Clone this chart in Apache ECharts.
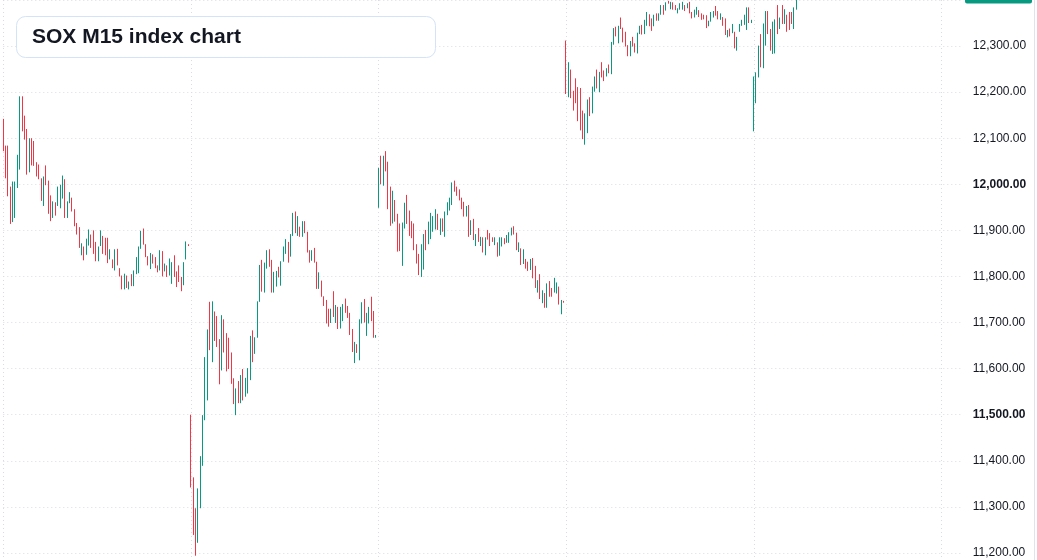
<!DOCTYPE html>
<html>
<head>
<meta charset="utf-8">
<title>SOX M15 index chart</title>
<script src="https://cdn.jsdelivr.net/npm/echarts@6/dist/echarts.min.js"></script>
<style>
  html, body { margin: 0; padding: 0; background: #ffffff; }
  #chart { width: 1037px; height: 560px; }
</style>
</head>
<body>
<div id="chart"></div>
<script>
// [open, close] per 15-minute bar, one array per session
const session1 = [
  [12142, 12072], [12084, 12013], [12084, 11974], [11995, 11914], [11918, 12006], [11927, 12006], [11992, 12064], [12032, 12191],
  [12191, 12115], [12149, 12097], [12120, 12021], [12026, 12100], [12100, 12041], [12094, 12040], [12048, 12017], [12043, 12011],
  [12013, 11964], [11953, 12017], [12041, 11998], [12008, 11936], [11976, 11920], [11927, 11963], [11961, 11932], [11953, 11995],
  [11948, 11999], [11969, 12019], [12011, 11927], [11927, 11963], [11959, 11983], [11971, 11941], [11946, 11909], [11916, 11891],
  [11907, 11862], [11846, 11872], [11865, 11835], [11847, 11882], [11867, 11902], [11891, 11862], [11900, 11849], [11875, 11833],
  [11833, 11865], [11866, 11900], [11888, 11849], [11884, 11846], [11884, 11829], [11837, 11859], [11837, 11818], [11813, 11859],
  [11860, 11824], [11818, 11800], [11802, 11772], [11772, 11806], [11802, 11775], [11772, 11789], [11805, 11779], [11779, 11813],
  [11805, 11842], [11807, 11865], [11860, 11899], [11904, 11869], [11870, 11842], [11844, 11824], [11816, 11851], [11848, 11828],
  [11842, 11818], [11824, 11809], [11813, 11857], [11855, 11800], [11811, 11828], [11824, 11799], [11802, 11839], [11784, 11831],
  [11846, 11799], [11811, 11777], [11824, 11788], [11799, 11768], [11781, 11831], [11837, 11876], [11870, 11866]
];

const session2 = [
  [11500, 11342], [11364, 11239], [11297, 11194], [11222, 11340], [11297, 11410], [11389, 11499], [11488, 11625], [11531, 11685],
  [11745, 11640], [11614, 11746], [11724, 11660], [11714, 11647], [11664, 11566], [11596, 11716], [11707, 11635], [11677, 11594],
  [11667, 11599], [11635, 11567], [11579, 11523], [11499, 11557], [11573, 11525], [11525, 11586], [11599, 11531], [11539, 11580],
  [11546, 11601], [11575, 11671], [11683, 11614], [11632, 11668], [11667, 11746], [11745, 11825], [11836, 11767], [11765, 11830],
  [11817, 11857], [11859, 11821], [11836, 11765], [11765, 11810], [11778, 11812], [11821, 11798], [11780, 11833], [11832, 11865],
  [11849, 11881], [11875, 11830], [11843, 11892], [11888, 11938], [11941, 11894], [11888, 11931], [11908, 11886], [11886, 11920],
  [11920, 11894], [11897, 11852], [11857, 11830], [11834, 11857], [11862, 11830], [11832, 11773], [11773, 11809], [11791, 11756],
  [11757, 11736], [11749, 11698], [11730, 11691], [11699, 11730], [11768, 11712], [11699, 11738], [11734, 11686], [11687, 11734],
  [11703, 11740], [11752, 11721], [11736, 11710], [11721, 11673], [11686, 11636], [11612, 11658], [11653, 11634], [11618, 11707],
  [11698, 11744], [11751, 11700], [11671, 11721], [11698, 11734], [11756, 11703], [11725, 11667], [11667, 11673]
];

const session3 = [
  [11949, 12036], [12062, 12000], [11997, 12062], [12072, 12028], [12049, 11946], [11995, 11910], [11915, 11986], [11966, 11919],
  [11936, 11854], [11915, 11855], [11823, 11917], [11904, 11960], [11977, 11914], [11943, 11888], [11920, 11883], [11915, 11857],
  [11870, 11828], [11849, 11803], [11799, 11870], [11815, 11892], [11901, 11857], [11870, 11919], [11881, 11938], [11897, 11931],
  [11902, 11946], [11936, 11901], [11890, 11926], [11926, 11897], [11886, 11941], [11933, 11961], [11943, 11971], [11955, 12004],
  [12008, 11984], [11995, 11975], [11989, 11965], [11971, 11946], [11962, 11930], [11930, 11953], [11955, 11886], [11890, 11922],
  [11925, 11879], [11866, 11892], [11905, 11875], [11866, 11886], [11885, 11852], [11846, 11885], [11901, 11880], [11894, 11866],
  [11885, 11875], [11868, 11885], [11874, 11843], [11845, 11885], [11865, 11885], [11883, 11870], [11873, 11890], [11873, 11896],
  [11889, 11906], [11909, 11891], [11895, 11857], [11853, 11874], [11861, 11825], [11827, 11859], [11838, 11817], [11832, 11812],
  [11814, 11838], [11840, 11796], [11823, 11775], [11765, 11792], [11805, 11751], [11742, 11770], [11764, 11732], [11732, 11785],
  [11790, 11756], [11775, 11756], [11765, 11797], [11763, 11787], [11778, 11739], [11718, 11749], [11747, 11743]
];

const session4 = [
  [12312, 12196], [12189, 12265], [12249, 12187], [12203, 12160], [12230, 12176], [12211, 12137], [12209, 12117], [12160, 12098],
  [12086, 12154], [12111, 12184], [12189, 12148], [12154, 12212], [12201, 12234], [12249, 12208], [12200, 12244], [12265, 12232],
  [12247, 12224], [12234, 12252], [12260, 12241], [12239, 12309], [12303, 12339], [12342, 12321], [12306, 12344], [12362, 12337],
  [12340, 12308], [12331, 12299], [12302, 12278], [12278, 12311], [12320, 12299], [12306, 12286], [12284, 12329], [12326, 12344],
  [12346, 12325], [12326, 12357], [12344, 12374], [12369, 12343], [12360, 12333], [12343, 12368], [12371, 12355], [12355, 12371],
  [12368, 12389], [12389, 12368], [12377, 12395], [12398, 12392], [12380, 12396], [12395, 12379], [12389, 12378], [12371, 12382],
  [12379, 12393], [12379, 12396], [12389, 12376], [12382, 12393], [12396, 12371], [12374, 12360], [12362, 12379], [12368, 12385],
  [12378, 12363], [12371, 12357], [12368, 12358], [12367, 12339], [12343, 12355], [12353, 12374], [12362, 12376], [12387, 12366],
  [12376, 12358], [12357, 12371], [12363, 12344], [12360, 12324], [12319, 12335], [12338, 12321], [12328, 12348], [12331, 12295],
  [12290, 12320], [12331, 12348], [12344, 12357], [12346, 12368], [12335, 12384], [12384, 12350], [12350, 12357]
];

const session5 = [
  [12115, 12234], [12176, 12243], [12232, 12301], [12326, 12254], [12252, 12349], [12301, 12376], [12376, 12326], [12337, 12290],
  [12283, 12353], [12284, 12358], [12389, 12326], [12337, 12362], [12389, 12348], [12348, 12380], [12368, 12331], [12374, 12335],
  [12374, 12348], [12337, 12384], [12379, 12412]
];

const barsPerSession = 79;
const slotCount = 405; // bar slots across the plot, empty ones on the right
const priceMin = 11100;
const priceMax = 12400;
const priceStep = 100;

const upColor = '#089981';
const downColor = '#f23645';
const gridColor = '#d9dce3';
const fontFamily = '"Liberation Sans", Arial, sans-serif';

const bars = [].concat(session1, session2, session3, session4, session5);
const candleData = bars.map(([open, close]) => [open, close, Math.min(open, close), Math.max(open, close)]);
const categories = [];
for (let i = 0; i < slotCount; i++) {
  categories.push(String(i));
}
const lastClose = bars[bars.length - 1][1];

function formatPrice(v) {
  return v.toLocaleString('en-US', { minimumFractionDigits: 2, maximumFractionDigits: 2 });
}

const chart = echarts.init(document.getElementById('chart'));

chart.setOption({
  animation: false,
  backgroundColor: '#ffffff',
  title: {
    text: 'SOX M15 index chart',
    left: 16,
    top: 16,
    padding: [9, 16],
    backgroundColor: '#ffffff',
    borderColor: '#d4e3f7',
    borderWidth: 1,
    borderRadius: 9,
    textStyle: {
      fontFamily,
      fontSize: 21,
      fontWeight: 'bold',
      color: '#131722',
      width: 388,
      lineHeight: 24,
    },
  },
  grid: {
    left: 3.3,
    top: 0,
    width: 959.5,
    height: 599,
    containLabel: false,
    outerBoundsMode: 'none',
  },
  xAxis: {
    type: 'category',
    data: categories,
    boundaryGap: false,
    axisLine: { show: false },
    axisTick: { show: false, interval: barsPerSession - 1 },
    axisLabel: { show: false, interval: barsPerSession - 1 },
    splitLine: {
      show: true,
      interval: barsPerSession - 1,
      lineStyle: { color: gridColor, type: [1, 3], width: 1 },
    },
  },
  yAxis: {
    type: 'value',
    position: 'right',
    min: priceMin,
    max: priceMax,
    interval: priceStep,
    axisLine: { show: false },
    axisTick: { show: false },
    splitLine: {
      show: true,
      lineStyle: { color: gridColor, type: [1, 3], width: 1 },
    },
    axisLabel: {
      margin: 10,
      color: '#131722',
      fontSize: 12,
      fontFamily,
      formatter: (v) => {
        if (v >= priceMax) return '';
        const text = formatPrice(v);
        return v % 500 === 0 ? '{b|' + text + '}' : text;
      },
      rich: {
        b: { fontWeight: 'bold', fontSize: 12, color: '#131722', fontFamily },
      },
    },
  },
  series: [
    {
      type: 'candlestick',
      data: candleData,
      barWidth: 0.6,
      itemStyle: {
        color: upColor,
        color0: downColor,
        borderColor: upColor,
        borderColor0: downColor,
        borderWidth: 1,
      },
    },
  ],
});

// last price tag on the price scale, placed through the grid's y scale
const lastPoint = chart.convertToPixel({ gridIndex: 0 }, [bars.length - 1, lastClose]);
let lastY = lastPoint ? lastPoint[1] : NaN;
if (!isFinite(lastY)) {
  const h = 599;
  lastY = h - ((lastClose - priceMin) / (priceMax - priceMin)) * h;
}

chart.setOption({
  graphic: [
    {
      type: 'line',
      shape: { x1: 1034.5, y1: 0, x2: 1034.5, y2: 560 },
      style: { stroke: '#e0e3eb', lineWidth: 1 },
      silent: true,
    },
    {
      type: 'rect',
      silent: true,
      z: 100,
      shape: { x: 965, y: lastY - 9, width: 67, height: 18, r: 2 },
      style: { fill: upColor },
    },
    {
      type: 'text',
      silent: true,
      z: 101,
      x: 972,
      y: lastY,
      style: {
        text: formatPrice(lastClose),
        fill: '#ffffff',
        font: '12px ' + fontFamily,
        verticalAlign: 'middle',
      },
    },
  ],
});
</script>
</body>
</html>
